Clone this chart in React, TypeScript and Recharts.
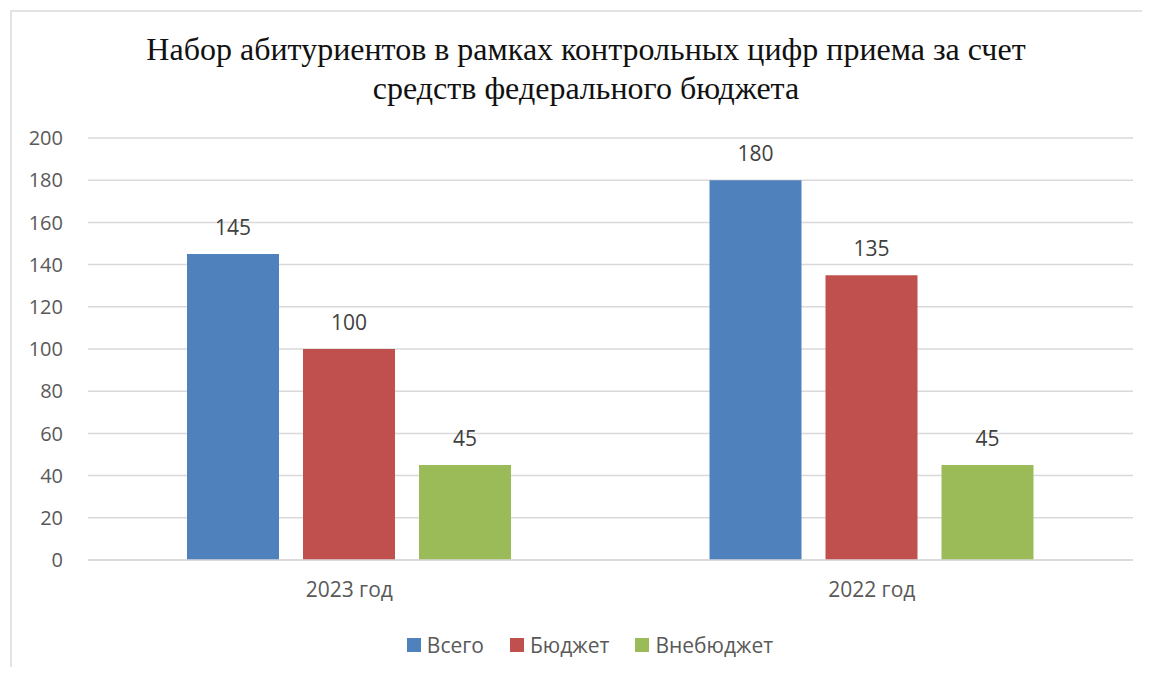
import { Bar, BarChart, CartesianGrid, LabelList, Legend, XAxis, YAxis } from "recharts";

const categories = ["2023 год", "2022 год"];
const total = [145, 180];
const budget = [100, 135];
const offBudget = [45, 45];
const yTicks = [0, 20, 40, 60, 80, 100, 120, 140, 160, 180, 200];

const SERIES = [
  { key: "total", name: "Всего", color: "#4F81BD" },
  { key: "budget", name: "Бюджет", color: "#C0504D" },
  { key: "offBudget", name: "Внебюджет", color: "#9BBB59" },
];

const data = categories.map((c, i) => ({
  name: c,
  total: total[i],
  budget: budget[i],
  offBudget: offBudget[i],
}));

const FONT = "'Open Sans', sans-serif";

// legend keeps the series order (recharts reorders the payload)
function LegendContent() {
  return (
    <div style={{ display: "flex", justifyContent: "center", gap: 26, fontFamily: FONT, fontSize: 21, color: "#595959" }}>
      {SERIES.map((s) => (
        <div key={s.key} style={{ display: "flex", alignItems: "center" }}>
          <span style={{ display: "inline-block", width: 14, height: 14, background: s.color, marginRight: 6 }} />
          {s.name}
        </div>
      ))}
    </div>
  );
}

export default function App() {
  return (
    <div style={{ position: "relative", width: 1150, height: 675, margin: -8, background: "#fff", overflow: "hidden" }}>
      <div
        style={{
          position: "absolute",
          left: 10,
          top: 10,
          width: 1200,
          height: 700,
          borderTop: "2px solid #e3e3e3",
          borderLeft: "2px solid #e3e3e3",
        }}
      />
      <div
        style={{
          position: "absolute",
          left: 86,
          width: 1000,
          top: 30,
          textAlign: "center",
          fontFamily: "'Liberation Serif', serif",
          fontSize: 32,
          lineHeight: "39px",
          color: "#111",
          whiteSpace: "nowrap",
        }}
      >
        Набор абитуриентов в рамках контрольных цифр приема за счет
        <br />
        средств федерального бюджета
      </div>
      <div style={{ position: "absolute", left: 0, top: 0 }}>
        <BarChart
          width={1150}
          height={675}
          data={data}
          margin={{ top: 138, right: 17, bottom: 47, left: 8 }}
          barCategoryGap={99}
          barGap={24}
        >
          <CartesianGrid vertical={false} stroke="#d9d9d9" strokeWidth={1.5} />
          <XAxis
            dataKey="name"
            axisLine={{ stroke: "#d9d9d9", strokeWidth: 1.5 }}
            tickLine={false}
            tickSize={0}
            tickMargin={22}
            height={40}
            tick={{ fill: "#595959", fontSize: 21, fontFamily: FONT }}
          />
          <YAxis
            domain={[0, 200]}
            ticks={yTicks}
            axisLine={false}
            tickLine={false}
            tickSize={0}
            tickMargin={25}
            width={80}
            tick={{ fill: "#595959", fontSize: 20, fontFamily: FONT }}
          />
          <Legend
            verticalAlign="bottom"
            wrapperStyle={{ top: 631, bottom: "auto", left: 0, width: 1180 }}
            content={<LegendContent />}
          />
          {SERIES.map((s) => (
            <Bar key={s.key} dataKey={s.key} name={s.name} fill={s.color} isAnimationActive={false}>
              <LabelList dataKey={s.key} position="top" offset={19} fill="#404040" fontSize={21} fontFamily={FONT} />
            </Bar>
          ))}
        </BarChart>
      </div>
    </div>
  );
}
